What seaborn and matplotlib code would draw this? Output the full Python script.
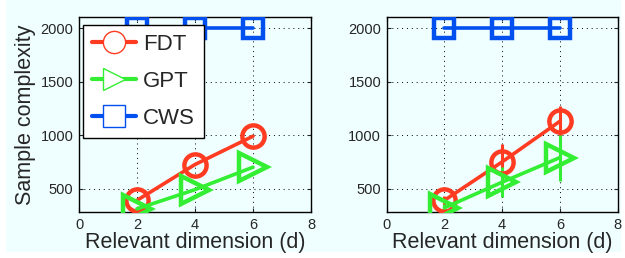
import numpy as np
import matplotlib
matplotlib.use("Agg")
import matplotlib.pyplot as plt
import seaborn as sns
import pandas as pd
from matplotlib.lines import Line2D
from matplotlib.patches import Rectangle

# data
dims = [2, 4, 6]
methods = ["FDT", "GPT", "CWS"]

left_fdt = [390, 725, 990]
left_gpt = [310, 490, 700]
left_cws = [2000, 2000, 2000]

right_fdt = [390, 750, 1130]
right_gpt = [320, 560, 790]
right_cws = [2000, 2000, 2000]

right_fdt_err = [40, 170, 140]
right_gpt_err = [40, 140, 215]

colors = {"FDT": "#ff3b22", "GPT": "#33ee33", "CWS": "#0050f0"}
markers = {"FDT": "o", "GPT": ">", "CWS": "s"}
msizes = {"FDT": 16, "GPT": 20, "CWS": 14}

sns.set_style("white")
plt.rcParams["font.family"] = ["Liberation Sans", "DejaVu Sans"]

bg = "#effefe"
fig = plt.figure(figsize=(6.25, 2.58), dpi=100, facecolor="white")
fig.patches.append(Rectangle((6 / 625, 6 / 258), 615 / 625, 252 / 258,
                             transform=fig.transFigure, facecolor=bg,
                             edgecolor="none", zorder=-10))

ax1 = fig.add_axes([0.1264, 0.178, 0.3712, 0.756])
ax2 = fig.add_axes([0.6187, 0.178, 0.3696, 0.756])


def draw(ax, vals, errs):
    rows = []
    for m in methods:
        for d, v in zip(dims, vals[m]):
            rows.append({"dim": d, "val": v, "method": m})
    df = pd.DataFrame(rows)
    for m in methods:
        sub = df[df["method"] == m]
        if m in errs:
            ax.errorbar(sub["dim"], sub["val"], yerr=errs[m], fmt="none",
                        ecolor=colors[m], elinewidth=2.2, capsize=0, zorder=2)
        sns.lineplot(data=sub, x="dim", y="val", ax=ax, color=colors[m],
                     marker=markers[m], markersize=msizes[m],
                     markerfacecolor="none", markeredgecolor=colors[m],
                     markeredgewidth=3.2, linewidth=2.6, zorder=3,
                     legend=False)
    ax.set_facecolor(bg)
    ax.set_xlim(0, 8)
    ax.set_ylim(280, 2105)
    ax.set_xticks([0, 2, 4, 6, 8])
    ax.set_yticks([500, 1000, 1500, 2000])
    ax.grid(True, color="black", linestyle=(0, (1, 4)), linewidth=0.7)
    ax.tick_params(direction="in", length=3, labelsize=10.5, pad=4,
                   top=True, right=True, bottom=True, left=True)
    for s in ax.spines.values():
        s.set_color("black")
        s.set_linewidth(1.0)
    ax.set_xlabel("Relevant dimension (d)", fontsize=15.5, labelpad=0)
    ax.set_ylabel("")


draw(ax1, {"FDT": left_fdt, "GPT": left_gpt, "CWS": left_cws}, {})
draw(ax2, {"FDT": right_fdt, "GPT": right_gpt, "CWS": right_cws},
     {"FDT": right_fdt_err, "GPT": right_gpt_err})
ax1.set_ylabel("Sample complexity", fontsize=15.5, labelpad=3)

handles = [Line2D([], [], color=colors[m], marker=markers[m], markersize=16,
                  markerfacecolor="white", markeredgewidth=1.0,
                  linewidth=3) for m in methods]
leg = ax1.legend(handles, methods, loc="upper left",
                 bbox_to_anchor=(0.017, 0.96), borderaxespad=0,
                 fontsize=16, handlelength=2.0, labelspacing=0.72,
                 handletextpad=0.3, borderpad=0.4, fancybox=False,
                 framealpha=1, edgecolor="black", facecolor="white")
leg.get_frame().set_linewidth(1.0)
leg.set_zorder(10)

fig.savefig("out.png", dpi=100, facecolor=fig.get_facecolor())
